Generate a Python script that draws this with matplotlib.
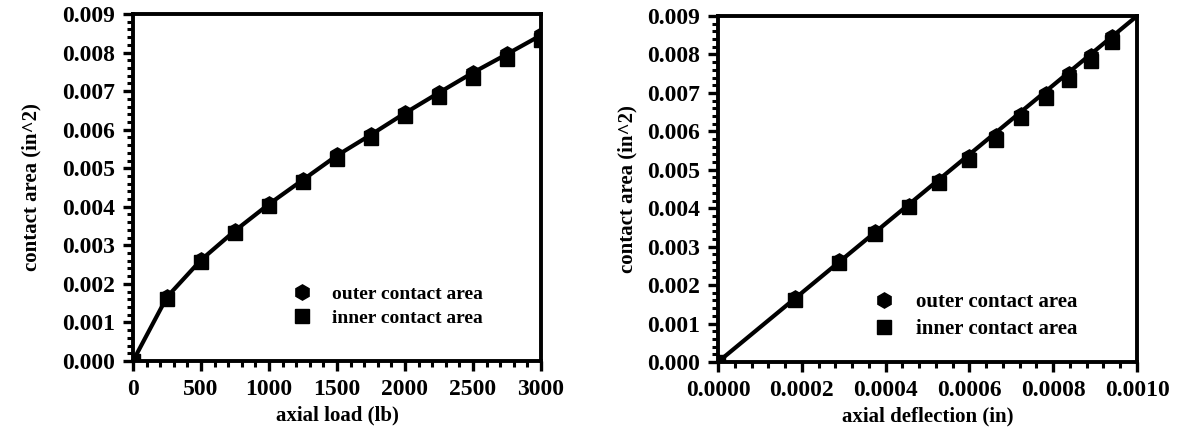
import matplotlib.pyplot as plt
from matplotlib.ticker import MultipleLocator, FormatStrFormatter

# data
load = [0, 250, 500, 750, 1000, 1250, 1500, 1750, 2000, 2250, 2500, 2750, 3000]
outer_area = [0.0, 0.00166, 0.00262, 0.00338, 0.00407, 0.00470, 0.00533, 0.00587, 0.00643, 0.00696, 0.00748, 0.00796, 0.00845]
inner_area = [0.0, 0.00160, 0.00257, 0.00333, 0.00402, 0.00465, 0.00525, 0.00578, 0.00635, 0.00686, 0.00734, 0.00782, 0.00832]

defl = [0.0, 0.000183, 0.000289, 0.000375, 0.000455, 0.000527, 0.0006, 0.000664, 0.000724, 0.000783, 0.000838, 0.00089, 0.00094]
fit_defl = [0.0, 0.001]
fit_area = [0.0, 0.009]

plt.rcParams['font.family'] = 'Liberation Serif'
plt.rcParams['font.weight'] = 'bold'
plt.rcParams['axes.labelweight'] = 'bold'

fig = plt.figure(figsize=(11.78, 4.46), dpi=100)
ax1 = fig.add_axes([133/1178, 1-361/446, (541-133)/1178, (361-14)/446])
ax2 = fig.add_axes([718/1178, 1-362/446, (1137-718)/1178, (362-16)/446])

ax1.plot(load, outer_area, color='black', lw=3, zorder=2)
ax1.plot(load, outer_area, 'h', color='black', ms=11, ls='none', label='outer contact area', zorder=3)
ax1.plot(load, inner_area, 's', color='black', ms=10, ls='none', label='inner contact area', zorder=3)
ax1.set_xlim(0, 3000)
ax1.xaxis.set_major_locator(MultipleLocator(500))
ax1.xaxis.set_minor_locator(MultipleLocator(100))
ax1.set_xlabel('axial load (lb)')

ax2.plot(fit_defl, fit_area, color='black', lw=3, zorder=2)
ax2.plot(defl, outer_area, 'h', color='black', ms=11, ls='none', label='outer contact area', zorder=3)
ax2.plot(defl, inner_area, 's', color='black', ms=10, ls='none', label='inner contact area', zorder=3)
ax2.set_xlim(0, 0.001)
ax2.xaxis.set_major_locator(MultipleLocator(0.0002))
ax2.xaxis.set_minor_locator(MultipleLocator(0.00004))
ax2.xaxis.set_major_formatter(FormatStrFormatter('%.4f'))
ax2.set_xlabel('axial deflection (in)')

for ax, anchor, pad, lsize in ((ax1, (0.391, 0.158), 15, 14), (ax2, (0.371, 0.134), 7, 15)):
    ax.set_ylim(0, 0.009)
    ax.yaxis.set_major_locator(MultipleLocator(0.001))
    ax.yaxis.set_minor_locator(MultipleLocator(0.0002))
    ax.yaxis.set_major_formatter(FormatStrFormatter('%.3f'))
    ax.set_ylabel('contact area (in^2)', fontsize=15, labelpad=pad)
    ax.xaxis.label.set_fontsize(15)
    for s in ax.spines.values():
        s.set_linewidth(2.8)
    ax.tick_params(which='major', direction='out', length=7, width=2.4, labelsize=17, pad=6)
    ax.tick_params(which='minor', direction='out', length=4, width=2.2)
    ax.legend(loc='center left', bbox_to_anchor=anchor, frameon=False, fontsize=lsize,
              handlelength=1.0, handletextpad=1.05, borderpad=0, borderaxespad=0,
              labelspacing=0.35)

plt.savefig('out.png', dpi=100)
plt.close()
